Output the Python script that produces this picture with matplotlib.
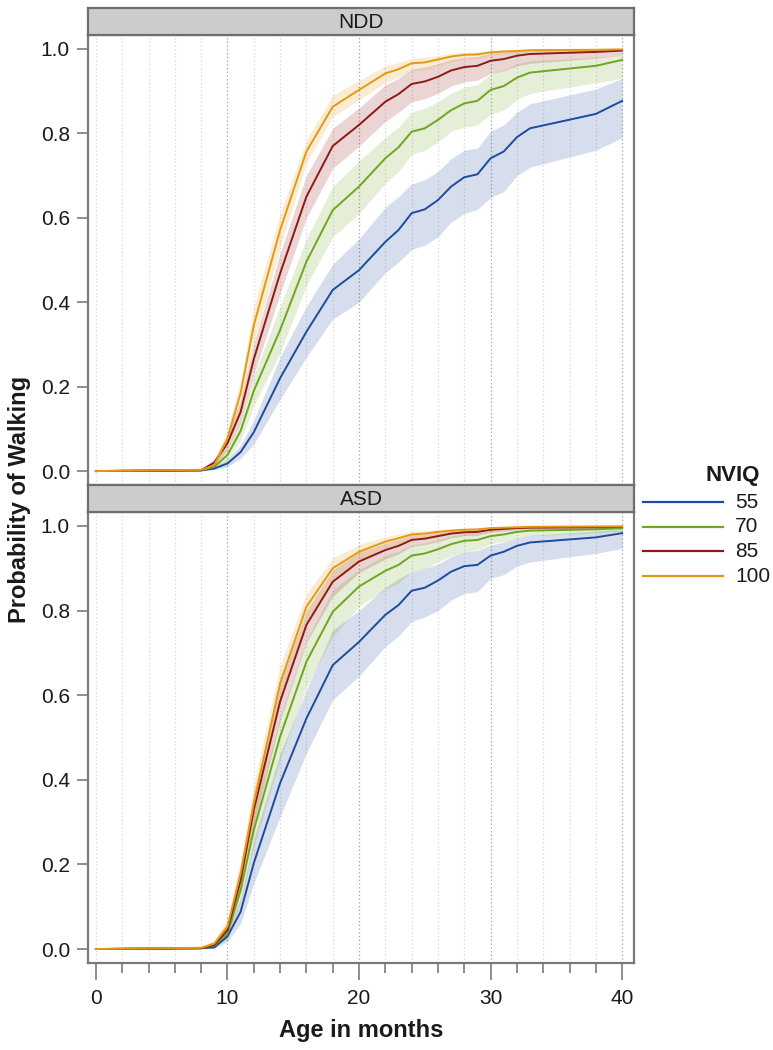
import matplotlib
matplotlib.use("Agg")
import matplotlib.pyplot as plt
from matplotlib.lines import Line2D
import numpy as np

plt.rcParams['font.family'] = ['Liberation Sans', 'DejaVu Sans']

# Data
ages = [0, 8, 9, 10, 11, 12, 14, 16, 18, 20, 22, 23, 24, 25, 26, 27, 28, 29, 30, 31, 32, 33, 38, 40]
nviq_levels = ['55', '70', '85', '100']
colors = ['#1f4a9e', '#6fa61f', '#8e1a14', '#e39a12']
panels = ['NDD', 'ASD']

# NDD: estimate, lower, upper per NVIQ level
ndd_est = {
    '55':  [0, .002, .006, .018, .045, .092, .22, .33, .429, .476, .543, .571, .611, .62, .642, .674, .696, .703, .741, .757, .791, .812, .846, .877],
    '70':  [0, .002, .01, .038, .095, .19, .334, .496, .618, .674, .741, .767, .804, .812, .832, .855, .871, .877, .903, .912, .932, .944, .96, .974],
    '85':  [0, .002, .02, .066, .14, .265, .468, .65, .77, .82, .875, .893, .917, .923, .934, .949, .957, .96, .972, .976, .984, .988, .993, .996],
    '100': [0, .003, .014, .077, .185, .345, .571, .757, .863, .903, .942, .952, .966, .968, .975, .982, .986, .987, .992, .994, .995, .997, .998, .999],
}
ndd_lo = {
    '55':  [0, 0, .003, .01, .03, .064, .17, .27, .36, .40, .47, .495, .525, .535, .555, .59, .61, .62, .648, .662, .70, .72, .76, .79],
    '70':  [0, 0, .005, .025, .072, .155, .28, .44, .555, .61, .682, .71, .75, .76, .78, .805, .815, .82, .845, .855, .88, .895, .92, .93],
    '85':  [0, 0, .012, .05, .115, .228, .42, .60, .717, .77, .828, .85, .875, .882, .895, .912, .922, .926, .942, .948, .96, .966, .978, .985],
    '100': [0, .001, .008, .058, .155, .30, .53, .729, .84, .88, .92, .932, .948, .951, .96, .969, .975, .977, .985, .988, .99, .993, .995, .997],
}
ndd_hi = {
    '55':  [0, .004, .01, .028, .062, .12, .27, .39, .49, .55, .625, .65, .68, .69, .71, .74, .76, .765, .805, .82, .85, .87, .905, .93],
    '70':  [0, .004, .016, .052, .118, .225, .39, .55, .674, .735, .79, .815, .85, .86, .875, .895, .91, .915, .942, .95, .965, .972, .98, .985],
    '85':  [0, .004, .03, .085, .168, .30, .516, .70, .812, .86, .915, .93, .952, .957, .965, .975, .98, .982, .99, .992, .995, .996, .998, .999],
    '100': [0, .006, .022, .10, .215, .39, .61, .784, .891, .925, .96, .968, .978, .98, .985, .99, .992, .993, .996, .997, .998, .999, .999, 1.0],
}

# ASD
asd_est = {
    '55':  [0, .002, .004, .03, .088, .203, .392, .545, .671, .726, .79, .813, .847, .854, .871, .892, .905, .908, .93, .939, .953, .961, .973, .983],
    '70':  [0, .002, .009, .037, .139, .281, .502, .679, .797, .857, .894, .908, .93, .935, .945, .957, .965, .967, .976, .98, .986, .989, .992, .995],
    '85':  [0, .002, .01, .045, .163, .329, .585, .766, .868, .916, .943, .953, .967, .97, .976, .982, .985, .986, .991, .993, .995, .996, .997, .998],
    '100': [0, .003, .013, .053, .179, .344, .628, .809, .90, .939, .963, .971, .98, .982, .986, .989, .991, .992, .995, .996, .997, .998, .999, .999],
}
asd_lo = {
    '55':  [0, 0, .001, .018, .06, .155, .313, .463, .589, .645, .715, .74, .774, .785, .80, .825, .84, .845, .876, .885, .905, .915, .935, .947],
    '70':  [0, .001, .004, .025, .11, .24, .447, .62, .738, .81, .85, .865, .892, .90, .915, .93, .94, .944, .958, .963, .972, .977, .983, .988],
    '85':  [0, .001, .005, .032, .135, .29, .54, .725, .833, .89, .922, .934, .952, .956, .963, .972, .977, .978, .985, .988, .991, .993, .995, .996],
    '100': [0, .001, .007, .038, .15, .30, .585, .775, .868, .915, .948, .958, .97, .973, .978, .983, .986, .987, .991, .993, .995, .996, .997, .998],
}
asd_hi = {
    '55':  [0, .004, .01, .045, .12, .26, .463, .612, .754, .80, .855, .875, .892, .90, .91, .928, .94, .942, .955, .962, .972, .978, .988, .995],
    '70':  [0, .004, .015, .052, .17, .325, .549, .73, .849, .897, .93, .94, .955, .96, .968, .976, .982, .984, .989, .991, .994, .996, .997, .998],
    '85':  [0, .004, .017, .062, .195, .37, .63, .80, .896, .938, .96, .968, .979, .981, .985, .989, .991, .992, .995, .996, .997, .998, .999, .999],
    '100': [0, .006, .022, .072, .21, .39, .67, .84, .924, .956, .975, .981, .987, .989, .991, .993, .995, .995, .997, .998, .999, .999, 1.0, 1.0],
}

panel_data = {'NDD': (ndd_est, ndd_lo, ndd_hi), 'ASD': (asd_est, asd_lo, asd_hi)}

W, H = 773, 1050
fig = plt.figure(figsize=(W / 100, H / 100), dpi=100)

def fx(px):
    return px / W

def fy(py):
    return 1 - py / H

frame_col = '#7a7a7a'
left, right = 88, 634
panel_px = {'NDD': (35, 485), 'ASD': (512, 963)}
strip_px = {'NDD': (8, 35), 'ASD': (485, 512)}

for name in panels:
    top, bot = panel_px[name]
    ax = fig.add_axes([fx(left), fy(bot), fx(right - left), fy(top) - fy(bot)])
    est, lo, hi = panel_data[name]

    # vertical dotted grid
    for m in range(0, 41, 2):
        c = '#a0a0a0' if m % 10 == 0 and m > 0 else '#d6d6d6'
        ax.axvline(m, color=c, lw=0.9, ls=(0, (1, 2)), zorder=0)

    for lvl, col in zip(nviq_levels, colors):
        ax.fill_between(ages, lo[lvl], hi[lvl], color=col, alpha=0.18, lw=0, zorder=1)
    for lvl, col in zip(nviq_levels, colors):
        ax.plot(ages, est[lvl], color=col, lw=1.4, zorder=3)

    ax.set_xlim(-0.6, 40.9)
    ax.set_ylim(-0.033, 1.033)
    ax.set_yticks([0, 0.2, 0.4, 0.6, 0.8, 1.0])
    ax.set_yticklabels(['0.0', '0.2', '0.4', '0.6', '0.8', '1.0'])
    for s in ax.spines.values():
        s.set_color(frame_col)
        s.set_linewidth(1.6)
    ax.tick_params(axis='y', direction='out', length=8, width=1.2, color=frame_col,
                   labelsize=15, labelcolor='#1a1a1a', pad=5)
    if name == 'ASD':
        ax.set_xticks([0, 10, 20, 30, 40])
        ax.set_xticks(range(0, 41, 2), minor=True)
        ax.tick_params(axis='x', which='major', direction='out', length=12, width=1.2,
                       color=frame_col, labelsize=15, labelcolor='#1a1a1a', pad=7)
        ax.tick_params(axis='x', which='minor', direction='out', length=7, width=1.2,
                       color=frame_col)
    else:
        ax.set_xticks([])

    # strip
    st, sb = strip_px[name]
    sax = fig.add_axes([fx(left), fy(sb), fx(right - left), fy(st) - fy(sb)])
    sax.set_facecolor('#cccccc')
    sax.set_xticks([])
    sax.set_yticks([])
    for s in sax.spines.values():
        s.set_color('#6e6e6e')
        s.set_linewidth(1.6)
    sax.text(0.5, 0.45, name, ha='center', va='center', fontsize=15, color='#1a1a1a',
             transform=sax.transAxes)

fig.text(fx(20), fy(499), 'Probability of Walking', rotation=90, ha='center', va='center',
         fontsize=17, fontweight='bold', color='#1a1a1a')
fig.text(fx(361), fy(1030), 'Age in months', ha='center', va='center',
         fontsize=17, fontweight='bold', color='#1a1a1a')

# legend
fig.text(fx(733), fy(475), 'NVIQ', ha='center', va='center', fontsize=16,
         fontweight='bold', color='#1a1a1a')
for i, (lvl, col) in enumerate(zip(nviq_levels, colors)):
    yy = fy(502 + i * 24.7)
    fig.add_artist(Line2D([fx(643), fx(723)], [yy, yy], color=col, lw=1.6,
                          transform=fig.transFigure))
    fig.text(fx(735), yy, lvl, ha='left', va='center', fontsize=15, color='#1a1a1a')

fig.savefig('out.png', dpi=100)
